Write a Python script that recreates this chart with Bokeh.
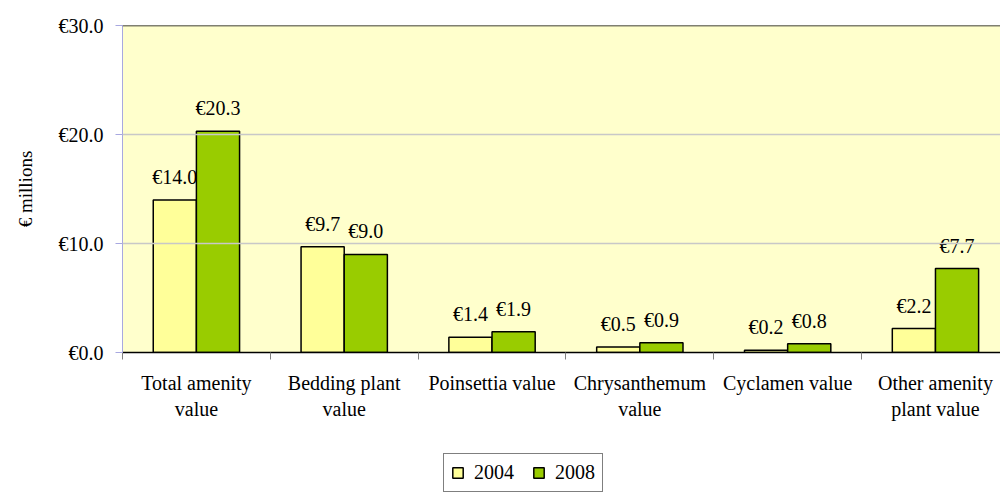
from bokeh.plotting import figure
from bokeh.layouts import column
from bokeh.models import (ColumnDataSource, Range1d, LinearAxis, FixedTicker,
                          PrintfTickFormatter, Span, Legend, LegendItem, LabelSet)
from bokeh.embed import file_html
from bokeh.resources import INLINE

categories = ["Total amenity\nvalue", "Bedding plant\nvalue", "Poinsettia value",
              "Chrysanthemum\nvalue", "Cyclamen value", "Other amenity\nplant value"]
series_names = ["2004", "2008"]
values_2004 = [14.0, 9.7, 1.4, 0.5, 0.2, 2.2]
values_2008 = [20.3, 9.0, 1.9, 0.9, 0.8, 7.7]
y_ticks = [0, 10, 20, 30]
y_label = "€ millions"

FONT = "Liberation Serif"
C04, C08 = "#FFFF99", "#99CC00"
n = len(categories)
centers = [i + 0.5 for i in range(n)]
off = 0.146
bw = 0.292

src04 = ColumnDataSource(dict(x=[c - off for c in centers], top=values_2004,
                              lab=["€%.1f" % v for v in values_2004]))
src08 = ColumnDataSource(dict(x=[c + off for c in centers], top=values_2008,
                              lab=["€%.1f" % v for v in values_2008]))

p = figure(width=1000, height=440, output_backend="svg", toolbar_location=None,
           x_range=Range1d(0, 5.94), y_range=Range1d(0, 30),
           x_axis_type=None, y_axis_type=None,
           min_border_left=122, min_border_right=0, min_border_top=25,
           min_border_bottom=88)
p.border_fill_color = "white"
p.outline_line_color = None
p.background_fill_color = "#FFFFCC"

p.vbar(x="x", top="top", width=bw, source=src04, fill_color=C04,
       line_color="black", line_width=1.5)
p.vbar(x="x", top="top", width=bw, source=src08, fill_color=C08,
       line_color="black", line_width=1.5)

for s in (src04, src08):
    p.add_layout(LabelSet(x="x", y="top", text="lab", source=s, text_align="center",
                          text_baseline="bottom", y_offset=12, text_font=FONT,
                          text_font_size="20px", text_color="black"))

# y axis
yax = LinearAxis(ticker=FixedTicker(ticks=y_ticks),
                 formatter=PrintfTickFormatter(format="€%.1f"))
yax.axis_label = y_label
yax.axis_label_text_font = FONT
yax.axis_label_text_font_style = "normal"
yax.axis_label_text_font_size = "19px"
yax.axis_label_text_color = "black"
yax.axis_label_standoff = 20
yax.major_label_text_font = FONT
yax.major_label_text_font_size = "20px"
yax.major_label_text_color = "black"
yax.axis_line_color = "#A8A8E0"
yax.major_tick_line_color = "#A8A8E0"
yax.major_tick_out = 7
yax.major_tick_in = 0
yax.minor_tick_line_color = None
yax.major_label_standoff = 12
p.add_layout(yax, "left")

# x axis: tick marks at category boundaries
xtick = LinearAxis(ticker=FixedTicker(ticks=list(range(n + 1))))
xtick.major_label_text_font_size = "0px"
xtick.major_label_text_color = None
xtick.axis_line_color = "black"
xtick.axis_line_width = 1.5
xtick.major_tick_line_color = "#808080"
xtick.major_tick_out = 7
xtick.major_tick_in = 0
xtick.minor_tick_line_color = None
xtick.major_label_standoff = 0
p.add_layout(xtick, "below")

# x axis: category labels at centers
xlab = LinearAxis(ticker=FixedTicker(ticks=centers),
                  major_label_overrides={c: lab for c, lab in zip(centers, categories)})
xlab.axis_line_color = None
xlab.major_tick_line_color = None
xlab.minor_tick_line_color = None
xlab.major_label_text_font = FONT
xlab.major_label_text_font_size = "20px"
xlab.major_label_text_color = "black"
xlab.major_label_standoff = 6
p.add_layout(xlab, "below")

# grid
p.add_layout(Span(location=10, dimension="width", line_color="#C8C8C8", line_width=1.5))
p.add_layout(Span(location=20, dimension="width", line_color="#C8C8C8", line_width=1.5))
p.add_layout(Span(location=30, dimension="width", line_color="black", line_width=1.5))

# legend strip below the chart (swatch renderers hidden under the legend box)
q = figure(width=1000, height=56, output_backend="svg", toolbar_location=None,
           x_range=Range1d(0, 878), y_range=Range1d(0, 56),
           x_axis_type=None, y_axis_type=None,
           min_border_left=0, min_border_right=0, min_border_top=0, min_border_bottom=0)
q.outline_line_color = None
q.background_fill_color = "white"
q.border_fill_color = "white"
q.xgrid.visible = False
q.ygrid.visible = False
g1 = q.vbar(x=[380], top=[30], bottom=[15], width=10, fill_color=C04,
            line_color="black", line_width=1.5)
g2 = q.vbar(x=[400], top=[30], bottom=[15], width=10, fill_color=C08,
            line_color="black", line_width=1.5)
legend = Legend(items=[LegendItem(label=series_names[0], renderers=[g1]),
                       LegendItem(label=series_names[1], renderers=[g2])],
                orientation="horizontal", location=(321, 4),
                label_text_font=FONT, label_text_font_size="20px",
                label_text_color="black",
                border_line_color="black", border_line_width=1,
                glyph_width=13, glyph_height=13, spacing=18, padding=7,
                label_standoff=10, background_fill_color="white",
                background_fill_alpha=1.0)
q.add_layout(legend, "center")

layout = column(p, q, spacing=0)
open("out.html", "w").write(file_html(layout, INLINE))
